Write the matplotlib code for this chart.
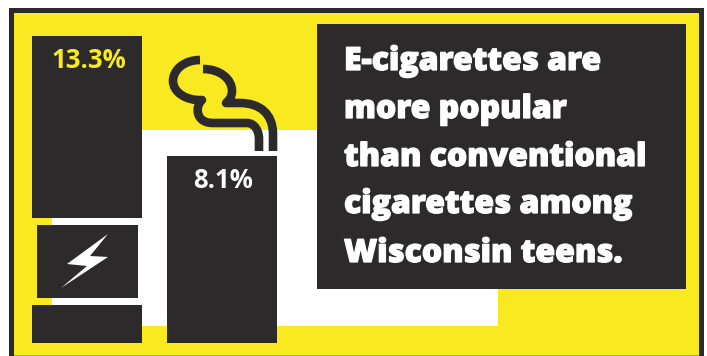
import matplotlib
matplotlib.use( 'Agg' )
import matplotlib.pyplot as plt
import matplotlib.patheffects as pe
from matplotlib.patches import Rectangle,Polygon,PathPatch
from matplotlib.path import Path

categories = [ 'E-cigarettes','Conventional cigarettes' ]
rates = [ 13.3,8.1 ]
rate_labels = [ '13.3%','8.1%' ]
headline = [ 'E-cigarettes are','more popular','than conventional','cigarettes among','Wisconsin teens.' ]
headline_y = [ 70,118,166,213,262 ]

YELLOW = '#f9e921'
DARK = '#2d2a2b'

fig = plt.figure( figsize=(7.07,3.56),dpi=100,facecolor='white' )

# background and decoration are laid out in pixels, y pointing down
def pixel_axes( z ):
    ax = fig.add_axes( [ 0,0,1,1 ],zorder=z )
    ax.set_xlim( 0,707 )
    ax.set_ylim( 356,0 )
    ax.axis( 'off' )
    return ax

def box( ax,x0,y0,x1,y1,color ):
    ax.add_patch( Rectangle( (x0,y0),x1-x0,y1-y0,facecolor=color,edgecolor='none' ) )

back = pixel_axes( 0 )
box( back,9,8,704,356,DARK )
box( back,14,13,699,355,YELLOW )
box( back,14,355,699,356,'#b5a91c' )
box( back,52,130,498,326,'white' )

# the two bars: about 23 px per percentage point, baseline at y=343
bars = fig.add_axes( [ 0,0,1,1 ],zorder=1 )
bars.patch.set_alpha( 0 )
bars.axis( 'off' )
bars.set_xlim( -87/135,(707-87)/135 )
bars.set_ylim( -13/23.05,343/23.05 )
bars.bar( range( len( rates ) ),rates,width=110/135,color=DARK )

front = pixel_axes( 2 )

# battery section of the e-cigarette
box( front,32,218,52,305,YELLOW )
box( front,52,218,142,305,'white' )
box( front,37,225,138,298,DARK )
front.add_patch( Polygon( [ (108,234),(67,264),(87,266),(61,288),(108,257),(90,256) ],
                          closed=True,facecolor='white',edgecolor='none' ) )

# smoke
M,L,C = Path.MOVETO,Path.LINETO,Path.CURVE4
smoke_right = Path(
    [ (203,69),(220,69),(232,79),(232,91),(232,97),(229,100),(226,103),
      (240,103),(260,103),(273,114),(273,134),(273,151) ],
    [ M,C,C,C,C,C,C,L,C,C,C,L ] )
smoke_left = Path(
    [ (200,60),(184,60),(173,70),(173,81),(173,92),(186,101),(202,100),
      (195,106),(195,123),(213,123),(247,123),(254,123),(259,130),(259,139),(259,151) ],
    [ M,C,C,C,C,C,C,C,C,C,L,C,C,C,L ] )
for smoke in ( smoke_right,smoke_left ):
    front.add_patch( PathPatch( smoke,facecolor='none',edgecolor=DARK,lw=6.2,capstyle='butt',joinstyle='round' ) )

# headline panel
box( front,317,24,686,289,DARK )
for line,y in zip( headline,headline_y ):
    front.text( 344,y,line,color='white',fontsize=23,family='Open Sans',weight=800,ha='left',va='baseline',
                path_effects=[ pe.withStroke( linewidth=0.9,foreground='white' ) ] )

front.text( 88.5,60,rate_labels[0],color=YELLOW,fontsize=18.5,family='Open Sans',weight=700,ha='center',va='center' )
front.text( 223.5,181,rate_labels[1],color='white',fontsize=18.5,family='Open Sans',weight=700,ha='center',va='center' )

fig.savefig( 'out.png',dpi=100 )
